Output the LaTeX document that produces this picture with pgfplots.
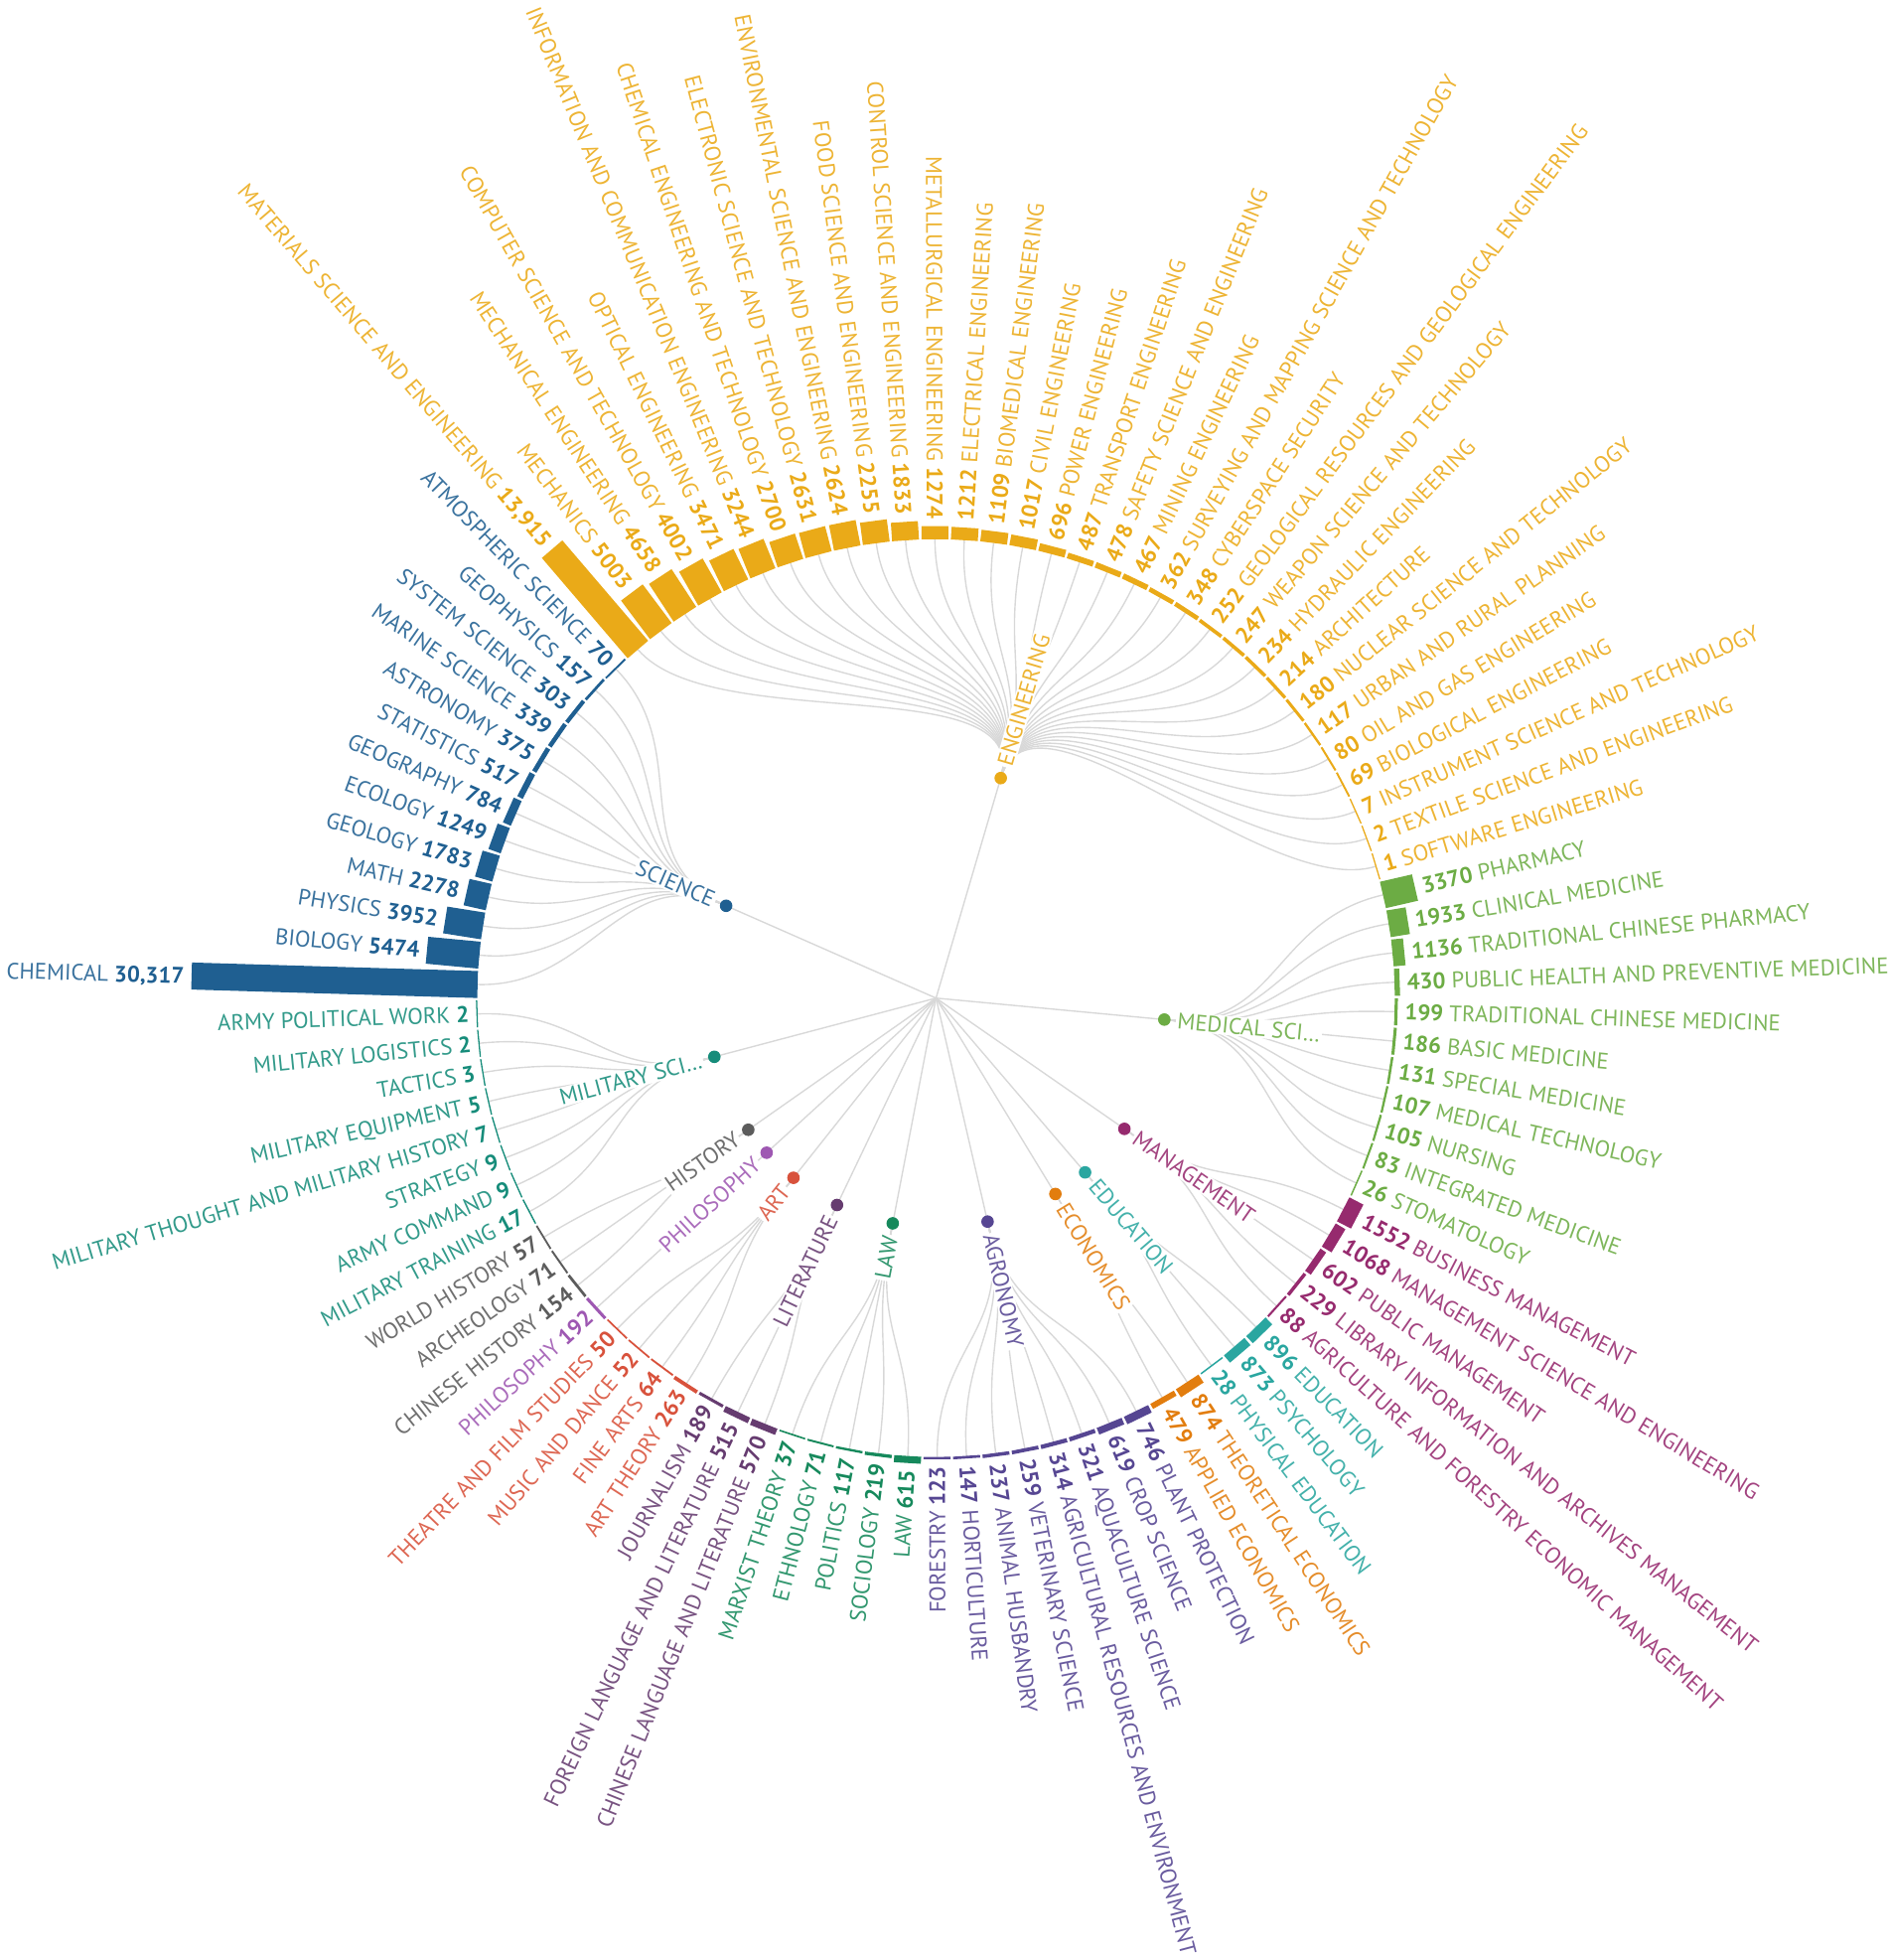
\documentclass[border=0pt]{standalone}
\usepackage{pgfplots}
\pgfplotsset{compat=1.18}
\usepackage{pgfplotstable}
\usepgfplotslibrary{polar}
\usepackage{fontspec}
\setmainfont{PT Sans}

\definecolor{cSCI}{RGB}{31,95,145}
\definecolor{cENG}{RGB}{234,170,24}
\definecolor{cMED}{RGB}{108,172,68}
\definecolor{cMAN}{RGB}{150,42,110}
\definecolor{cEDU}{RGB}{42,166,160}
\definecolor{cECO}{RGB}{226,125,14}
\definecolor{cAGR}{RGB}{86,70,146}
\definecolor{cLAW}{RGB}{22,137,92}
\definecolor{cLIT}{RGB}{102,60,112}
\definecolor{cART}{RGB}{216,82,60}
\definecolor{cPHI}{RGB}{158,88,178}
\definecolor{cHIS}{RGB}{92,92,92}
\definecolor{cMIL}{RGB}{22,140,122}
\definecolor{linkgray}{RGB}{216,216,216}

\pgfplotstableread[col sep=comma]{
val,grp,name
30317,SCI,CHEMICAL
5474,SCI,BIOLOGY
3952,SCI,PHYSICS
2278,SCI,MATH
1783,SCI,GEOLOGY
1249,SCI,ECOLOGY
784,SCI,GEOGRAPHY
517,SCI,STATISTICS
375,SCI,ASTRONOMY
339,SCI,MARINE SCIENCE
303,SCI,SYSTEM SCIENCE
157,SCI,GEOPHYSICS
70,SCI,ATMOSPHERIC SCIENCE
13915,ENG,MATERIALS SCIENCE AND ENGINEERING
5003,ENG,MECHANICS
4658,ENG,MECHANICAL ENGINEERING
4002,ENG,COMPUTER SCIENCE AND TECHNOLOGY
3471,ENG,OPTICAL ENGINEERING
3244,ENG,INFORMATION AND COMMUNICATION ENGINEERING
2700,ENG,CHEMICAL ENGINEERING AND TECHNOLOGY
2631,ENG,ELECTRONIC SCIENCE AND TECHNOLOGY
2624,ENG,ENVIRONMENTAL SCIENCE AND ENGINEERING
2255,ENG,FOOD SCIENCE AND ENGINEERING
1833,ENG,CONTROL SCIENCE AND ENGINEERING
1274,ENG,METALLURGICAL ENGINEERING
1212,ENG,ELECTRICAL ENGINEERING
1109,ENG,BIOMEDICAL ENGINEERING
1017,ENG,CIVIL ENGINEERING
696,ENG,POWER ENGINEERING
487,ENG,TRANSPORT ENGINEERING
478,ENG,SAFETY SCIENCE AND ENGINEERING
467,ENG,MINING ENGINEERING
362,ENG,SURVEYING AND MAPPING SCIENCE AND TECHNOLOGY
348,ENG,CYBERSPACE SECURITY
252,ENG,GEOLOGICAL RESOURCES AND GEOLOGICAL ENGINEERING
247,ENG,WEAPON SCIENCE AND TECHNOLOGY
234,ENG,HYDRAULIC ENGINEERING
214,ENG,ARCHITECTURE
180,ENG,NUCLEAR SCIENCE AND TECHNOLOGY
117,ENG,URBAN AND RURAL PLANNING
80,ENG,OIL AND GAS ENGINEERING
69,ENG,BIOLOGICAL ENGINEERING
7,ENG,INSTRUMENT SCIENCE AND TECHNOLOGY
2,ENG,TEXTILE SCIENCE AND ENGINEERING
1,ENG,SOFTWARE ENGINEERING
3370,MED,PHARMACY
1933,MED,CLINICAL MEDICINE
1136,MED,TRADITIONAL CHINESE PHARMACY
430,MED,PUBLIC HEALTH AND PREVENTIVE MEDICINE
199,MED,TRADITIONAL CHINESE MEDICINE
186,MED,BASIC MEDICINE
131,MED,SPECIAL MEDICINE
107,MED,MEDICAL TECHNOLOGY
105,MED,NURSING
83,MED,INTEGRATED MEDICINE
26,MED,STOMATOLOGY
1552,MAN,BUSINESS MANAGEMENT
1068,MAN,MANAGEMENT SCIENCE AND ENGINEERING
602,MAN,PUBLIC MANAGEMENT
229,MAN,LIBRARY INFORMATION AND ARCHIVES MANAGEMENT
88,MAN,AGRICULTURE AND FORESTRY ECONOMIC MANAGEMENT
896,EDU,EDUCATION
873,EDU,PSYCHOLOGY
28,EDU,PHYSICAL EDUCATION
874,ECO,THEORETICAL ECONOMICS
479,ECO,APPLIED ECONOMICS
746,AGR,PLANT PROTECTION
619,AGR,CROP SCIENCE
321,AGR,AQUACULTURE SCIENCE
314,AGR,AGRICULTURAL RESOURCES AND ENVIRONMENT
259,AGR,VETERINARY SCIENCE
237,AGR,ANIMAL HUSBANDRY
147,AGR,HORTICULTURE
123,AGR,FORESTRY
615,LAW,LAW
219,LAW,SOCIOLOGY
117,LAW,POLITICS
71,LAW,ETHNOLOGY
37,LAW,MARXIST THEORY
570,LIT,CHINESE LANGUAGE AND LITERATURE
515,LIT,FOREIGN LANGUAGE AND LITERATURE
189,LIT,JOURNALISM
263,ART,ART THEORY
64,ART,FINE ARTS
52,ART,MUSIC AND DANCE
50,ART,THEATRE AND FILM STUDIES
192,PHI,PHILOSOPHY
154,HIS,CHINESE HISTORY
71,HIS,ARCHEOLOGY
57,HIS,WORLD HISTORY
17,MIL,MILITARY TRAINING
9,MIL,ARMY COMMAND
9,MIL,STRATEGY
7,MIL,MILITARY THOUGHT AND MILITARY HISTORY
5,MIL,MILITARY EQUIPMENT
3,MIL,TACTICS
2,MIL,MILITARY LOGISTICS
2,MIL,ARMY POLITICAL WORK
}\leaves

\pgfplotstableread[col sep=comma]{
grp,first,last,name
SCI,0,12,SCIENCE
ENG,13,44,ENGINEERING
MED,45,55,MEDICAL SCI…
MAN,56,60,MANAGEMENT
EDU,61,63,EDUCATION
ECO,64,65,ECONOMICS
AGR,66,73,AGRONOMY
LAW,74,78,LAW
LIT,79,81,LITERATURE
ART,82,85,ART
PHI,86,86,PHILOSOPHY
HIS,87,89,HISTORY
MIL,90,97,MILITARY SCI…
}\groups

% geometry (units: 1 = 0.5pt)
\def\TZ{178.3}      % angle of first leaf
\def\DT{3.673469}   % angular step (360/98)
\def\RZ{367}        % leaf radius (bar base)
\def\RC{183.5}      % category radius
\def\SC{0.00752}    % bar length per unit
\def\RMID{275.25}   % (RC+RZ)/2

\pgfkeys{/pgf/number format/.cd, 1000 sep={,}, min exponent for 1000 sep=4, assume math mode=true}

\tikzset{lbl/.style={inner sep=0pt, font=\fontsize{9.05}{10}\selectfont, text height=6.4pt, text depth=0pt}}

\begin{document}
\begin{tikzpicture}
\begin{axis}[
  x=0.5pt, y=0.5pt,
  xmin=-749, xmax=762, ymin=-769.5, ymax=798.5,
  hide axis, clip=false,
]
\coordinate (BL) at (axis cs:-749,-769.5);
\coordinate (TR) at (axis cs:762,798.5);

% category angles and root links
\pgfplotsforeachungrouped \i in {0,...,12}{%
  \pgfplotstablegetelem{\i}{grp}\of\groups \edef\myg{\pgfplotsretval}%
  \pgfplotstablegetelem{\i}{first}\of\groups \edef\myfa{\pgfplotsretval}%
  \pgfplotstablegetelem{\i}{last}\of\groups \edef\myla{\pgfplotsretval}%
  \edef\thc{\fpeval{round(\TZ-(\myfa+\myla)/2*\DT,4)}}%
  \expandafter\xdef\csname thc\myg\endcsname{\thc}%
  \edef\temp{\noexpand\addplot[data cs=polar, draw=linkgray, line width=0.55pt, forget plot] coordinates {(0,0) (\thc,\RC)};}%
  \temp
}

% leaf links
\pgfplotsforeachungrouped \i in {0,...,97}{%
  \pgfplotstablegetelem{\i}{grp}\of\leaves \edef\myg{\pgfplotsretval}%
  \edef\thc{\csname thc\myg\endcsname}%
  \edef\thl{\fpeval{round(\TZ-\i*\DT,4)}}%
  \edef\xa{\fpeval{round(\RC*cosd(\thc),3)}}\edef\ya{\fpeval{round(\RC*sind(\thc),3)}}%
  \edef\xb{\fpeval{round(\RMID*cosd(\thc),3)}}\edef\yb{\fpeval{round(\RMID*sind(\thc),3)}}%
  \edef\xc{\fpeval{round(\RMID*cosd(\thl),3)}}\edef\yc{\fpeval{round(\RMID*sind(\thl),3)}}%
  \edef\xd{\fpeval{round(\RZ*cosd(\thl),3)}}\edef\yd{\fpeval{round(\RZ*sind(\thl),3)}}%
  \edef\temp{\noexpand\draw[linkgray, line width=0.55pt] (axis cs:\xa,\ya) .. controls (axis cs:\xb,\yb) and (axis cs:\xc,\yc) .. (axis cs:\xd,\yd);}%
  \temp
}

% bars and leaf labels
\pgfplotsforeachungrouped \i in {0,...,97}{%
  \pgfplotstablegetelem{\i}{grp}\of\leaves \edef\myg{\pgfplotsretval}%
  \pgfplotstablegetelem{\i}{val}\of\leaves \edef\myv{\pgfplotsretval}%
  \pgfplotstablegetelem{\i}{name}\of\leaves \edef\myname{\pgfplotsretval}%
  \edef\thl{\fpeval{round(\TZ-\i*\DT,4)}}%
  \edef\rb{\fpeval{round(\RZ+1+\myv*\SC,3)}}%
  \edef\rl{\fpeval{round(\rb+5.5,3)}}%
  \edef\xl{\fpeval{round(\rl*cosd(\thl),3)}}\edef\yl{\fpeval{round(\rl*sind(\thl),3)}}%
  \edef\temp{\noexpand\addplot[data cs=polar, draw=c\myg, line width=10.8pt, forget plot] coordinates {(\thl,\RZ) (\thl,\rb)};}%
  \temp
  \ifnum\fpeval{(\i>24)&&(\i<73)}=1
    \edef\temp{\noexpand\node[lbl, rotate=\thl, anchor=west, text=c\myg!88!white] at (axis cs:\xl,\yl) {\noexpand\textcolor{c\myg}{\noexpand\textbf{\noexpand\pgfmathprintnumber{\myv}}} \myname};}%
  \else
    \edef\rot{\fpeval{round(\thl+180,4)}}%
    \edef\temp{\noexpand\node[lbl, rotate=\rot, anchor=east, text=c\myg!88!white] at (axis cs:\xl,\yl) {\myname\ \noexpand\textcolor{c\myg}{\noexpand\textbf{\noexpand\pgfmathprintnumber{\myv}}}};}%
  \fi
  \temp
}

% category dots and labels
\pgfplotsforeachungrouped \i in {0,...,12}{%
  \pgfplotstablegetelem{\i}{grp}\of\groups \edef\myg{\pgfplotsretval}%
  \pgfplotstablegetelem{\i}{name}\of\groups \edef\myname{\pgfplotsretval}%
  \edef\thc{\csname thc\myg\endcsname}%
  \edef\temp{\noexpand\addplot[data cs=polar, only marks, mark=*, mark size=2.3pt, color=c\myg, forget plot] coordinates {(\thc,\RC)};}%
  \temp
  \edef\xl{\fpeval{round((\RC+9)*cosd(\thc),3)}}\edef\yl{\fpeval{round((\RC+9)*sind(\thc),3)}}%
  \ifnum\fpeval{cosd(\thc)>0}=1
    \edef\temp{\noexpand\node[lbl, rotate=\thc, anchor=west, text=c\myg!88!white, fill=white, inner sep=0.6pt] at (axis cs:\xl,\yl) {\myname};}%
  \else
    \edef\rot{\fpeval{round(\thc+180,4)}}%
    \edef\temp{\noexpand\node[lbl, rotate=\rot, anchor=east, text=c\myg!88!white, fill=white, inner sep=0.6pt] at (axis cs:\xl,\yl) {\myname};}%
  \fi
  \temp
}
\end{axis}
\pgfresetboundingbox
\path[use as bounding box] (BL) rectangle (TR);
\end{tikzpicture}
\end{document}
